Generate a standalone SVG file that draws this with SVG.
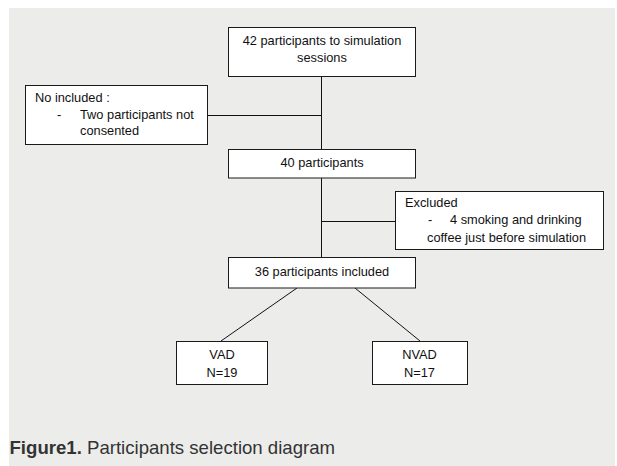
<svg xmlns="http://www.w3.org/2000/svg" width="617" height="466" viewBox="0 0 617 466">
<style>
.box{fill:#ffffff;stroke:#1a1a1a;stroke-width:1}
.t{font-family:"Liberation Sans",Arial,sans-serif;font-size:12.8px;fill:#111}
.c{text-anchor:middle}
.ln{stroke:#111;stroke-width:1;fill:none}
.cap{font-family:"Liberation Sans",Arial,sans-serif;font-size:18.6px;fill:#333}
</style>
<rect x="0" y="0" width="617" height="466" fill="#ffffff"/>
<rect x="9" y="8" width="606" height="458" fill="#ECEDEB"/>
<g id="connectors">
<line class="ln" x1="321.5" y1="76" x2="321.5" y2="149"/>
<line class="ln" x1="207" y1="115.5" x2="321.5" y2="115.5"/>
<line class="ln" x1="321.5" y1="178" x2="321.5" y2="257"/>
<line class="ln" x1="321.5" y1="221.5" x2="395" y2="221.5"/>
<line class="ln" x1="297" y1="288" x2="221" y2="341"/>
<line class="ln" x1="355" y1="288" x2="420" y2="341"/>
</g>
<g id="n42">
<rect class="box" x="228.5" y="27.5" width="187" height="49"/>
<text class="t c" x="322" y="45">42 participants to simulation</text>
<text class="t c" x="322" y="62">sessions</text>
</g>
<g id="noincluded">
<rect class="box" x="25.5" y="85.5" width="182" height="59"/>
<text class="t" x="35" y="102">No included :</text>
<text class="t" x="57" y="119">-</text>
<text class="t" x="80" y="119">Two participants not</text>
<text class="t" x="80" y="135">consented</text>
</g>
<g id="n40">
<rect class="box" x="228.5" y="149.5" width="187" height="28.5"/>
<text class="t c" x="322" y="167">40 participants</text>
</g>
<g id="excluded">
<rect class="box" x="395.5" y="191.5" width="208" height="58"/>
<text class="t" x="405" y="207">Excluded</text>
<text class="t" x="428" y="224">-</text>
<text class="t" x="450" y="224">4 smoking and drinking</text>
<text class="t" x="427" y="242">coffee just before simulation</text>
</g>
<g id="n36">
<rect class="box" x="228.5" y="257.5" width="187" height="30.5"/>
<text class="t c" x="322" y="276">36 participants included</text>
</g>
<g id="vad">
<rect class="box" x="176.5" y="341.5" width="91" height="43"/>
<text class="t c" x="222" y="359">VAD</text>
<text class="t c" x="222" y="377">N=19</text>
</g>
<g id="nvad">
<rect class="box" x="372.5" y="341.5" width="95" height="43"/>
<text class="t c" x="419.5" y="359">NVAD</text>
<text class="t c" x="419.5" y="377">N=17</text>
</g>
<text class="cap" x="9.5" y="454"><tspan font-weight="bold">Figure1.</tspan> Participants selection diagram</text>
</svg>
